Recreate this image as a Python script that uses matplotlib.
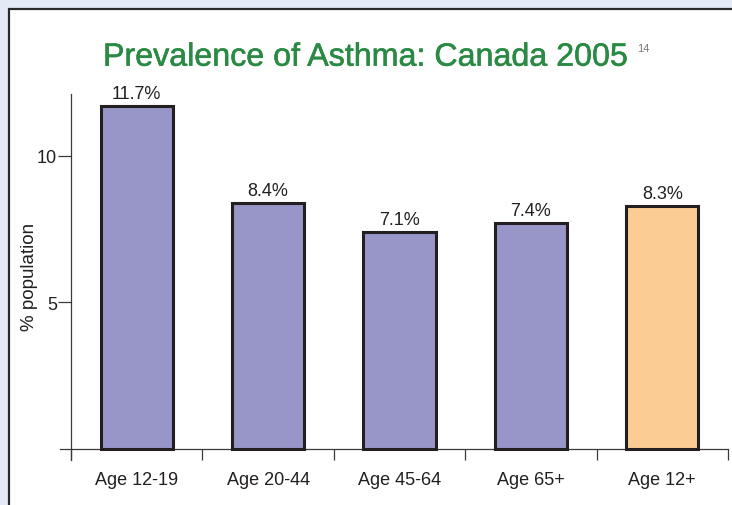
import matplotlib
matplotlib.use("Agg")
import matplotlib.pyplot as plt
from matplotlib.patches import Rectangle
import matplotlib.patheffects as pe

plt.rcParams['font.family'] = ['Liberation Sans', 'DejaVu Sans']

categories = ["Age 12-19", "Age 20-44", "Age 45-64", "Age 65+", "Age 12+"]
values = [11.7, 8.4, 7.4, 7.7, 8.3]
value_labels = ["11.7%", "8.4%", "7.1%", "7.4%", "8.3%"]
bar_colors = ["#9896c9", "#9896c9", "#9896c9", "#9896c9", "#fbcd95"]
yticks = [5, 10]
title = "Prevalence of Asthma: Canada 2005"
title_ref = "14"
ylabel = "% population"

W, H = 732, 506
fig = plt.figure(figsize=(W / 100, H / 100), dpi=100)
fig.patch.set_facecolor("#e3e9f5")

# white panel with dark border
panel = Rectangle((9 / W, -0.1), 1.2, (H - 9.5) / H + 0.1, transform=fig.transFigure,
                  facecolor="white", edgecolor="#2b2b2b", linewidth=1.6, zorder=-10)
fig.patches.append(panel)

ax = fig.add_axes([51.3 / W, (H - 467.6) / H, (730.6 - 51.3) / W, (467.6 - 89.2) / H])
ax.set_zorder(5)
ax.set_facecolor("none")
ax.set_xlim(-0.15, 5.02)
ax.set_ylim(-0.6, 12.3)

xpos = [i + 0.5 for i in range(len(categories))]
bars = ax.bar(xpos, values, width=0.55, color=bar_colors, edgecolor="#231f20",
              linewidth=2.2, zorder=3)
for x, v, lab in zip(xpos, values, value_labels):
    ax.text(x, v + 0.27, lab, ha="center", va="baseline", fontsize=13, color="#231f20")

for s in ["top", "right"]:
    ax.spines[s].set_visible(False)
ax.spines["left"].set_position(("data", 0))
ax.spines["bottom"].set_position(("data", 0))
ax.spines["left"].set_bounds(-0.37, 12.1)
ax.spines["bottom"].set_bounds(-0.084, 5.0)
for s in ["left", "bottom"]:
    ax.spines[s].set_color("#3a3a3a")
    ax.spines[s].set_linewidth(0.9)

ax.set_xticks(range(len(categories) + 1))
ax.set_xticklabels([])
ax.set_xticks(xpos, minor=True)
ax.set_xticklabels(categories, minor=True)
ax.tick_params(axis="x", which="major", direction="out", length=8, width=0.9, color="#3a3a3a")
ax.tick_params(axis="x", which="minor", length=0, pad=16, labelsize=13, labelcolor="#231f20")

ax.set_yticks(yticks)
ax.set_yticklabels([str(t) for t in yticks])
ax.tick_params(axis="y", direction="out", length=9.5, width=0.9, color="#3a3a3a",
               pad=0.5, labelsize=13, labelcolor="#231f20")

fig.text(29 / W, (H - 277) / H, ylabel, rotation=90, ha="center", va="center",
         fontsize=13.5, color="#231f20")

fig.text(103 / W, (H - 66.7) / H, title, ha="left", va="baseline",
         fontsize=23.2, color="#2a8a43",
         path_effects=[pe.withStroke(linewidth=0.4, foreground="#2a8a43")])
fig.text(637 / W, (H - 52) / H, title_ref, ha="left", va="baseline",
         fontsize=8, color="#777777")

fig.savefig("out.png", dpi=100, facecolor=fig.get_facecolor())
